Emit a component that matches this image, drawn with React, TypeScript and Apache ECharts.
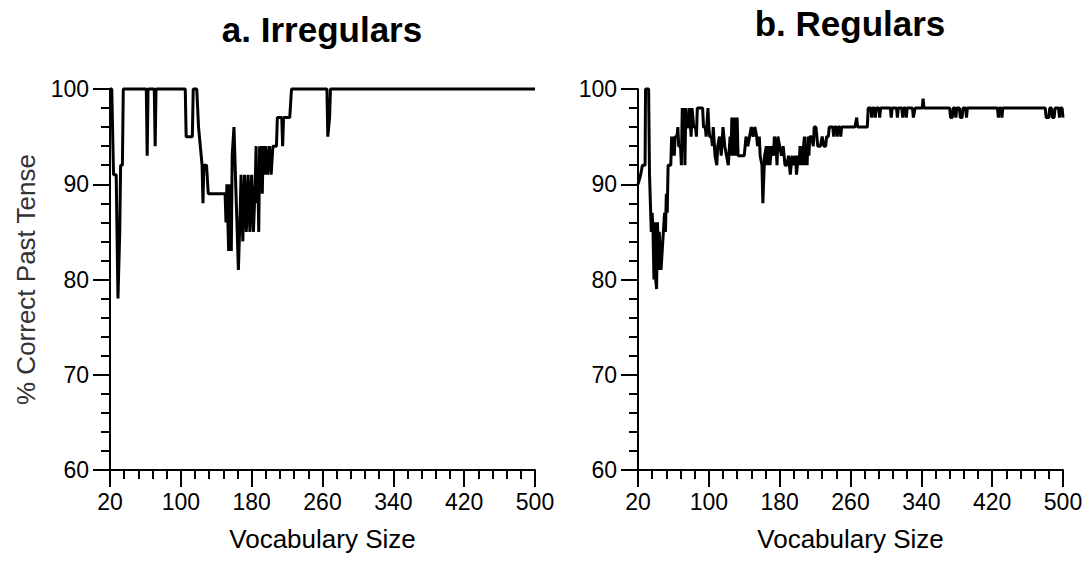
import React, { useEffect, useRef } from "react";
import * as echarts from "echarts";

// x axis starts at vocabulary size 20; the axis is drawn 0..480 and labelled +20
const X_ORIGIN = 20;
const xTickLabels = [20, 100, 180, 260, 340, 420, 500];
const yTickLabels = [60, 70, 80, 90, 100];

const titles = ["a. Irregulars", "b. Regulars"];
const xName = "Vocabulary Size";
const yName = "% Correct Past Tense";

const irregVocab = [
  20, 22, 24, 27, 29, 31, 32, 34, 35, 61, 62, 63, 70, 71, 72, 105, 106, 113, 114, 118,
  120, 124, 125, 126, 129, 131, 150, 151, 152, 154, 155, 157, 158, 160, 162, 165, 167, 168, 170, 172,
  174, 176, 178, 180, 182, 184, 185, 186, 187, 188, 189, 190, 191, 192, 193, 195, 196, 198, 200, 202,
  204, 208, 209, 214, 215, 216, 223, 225, 265, 266, 268, 269, 500,
];
const irregPct = [
  100, 100, 91, 91, 78, 85, 92, 92, 100, 100, 93, 100, 100, 94, 100, 100, 95, 95, 100, 100,
  96, 92, 88, 92, 92, 89, 89, 86, 90, 83, 90, 83, 93, 96, 90, 81, 87, 91, 84, 91,
  85, 91, 85, 91, 85, 90, 94, 88, 91, 85, 94, 91, 94, 89, 94, 91, 94, 91, 94, 91,
  94, 94, 97, 97, 94, 97, 97, 100, 100, 95, 97, 100, 100,
];

const regVocab = [
  20, 23, 25, 28, 28.5, 32, 33, 35, 36, 37, 38, 39, 40, 41, 42, 43, 44, 46, 48, 50,
  51, 52, 53, 54, 57, 58, 59, 60, 61, 62, 64, 65, 66, 68, 69, 70, 71, 72, 73, 74,
  75, 77, 78, 80, 81, 83, 85, 86, 87, 93, 94, 96, 97, 99, 100, 101, 103, 104, 105, 107,
  109, 110, 112, 114, 116, 118, 120, 122, 124, 125, 126, 127, 128, 129, 130, 131, 132, 133, 135, 138,
  140, 142, 144, 146, 148, 150, 152, 154, 155, 157, 158, 160, 161, 163, 165, 166, 168, 169, 171, 173,
  174, 176, 177, 178, 180, 182, 184, 186, 188, 190, 192, 194, 196, 198, 199, 201, 202, 203, 204, 205,
  206, 207, 208, 209, 210, 211, 212, 213, 214, 216, 218, 219, 221, 223, 226, 228, 230, 232, 233, 235,
  236, 240, 241, 242, 244, 245, 246, 248, 249, 250, 265, 267, 268, 279, 280, 283, 284, 285, 287, 288,
  289, 292, 293, 294, 305, 306, 307, 312, 313, 314, 318, 319, 320, 322, 323, 324, 330, 331, 333, 341,
  342, 343, 372, 373, 375, 376, 378, 379, 380, 383, 384, 386, 387, 390, 391, 392, 426, 427, 428, 430,
  431, 432, 480, 481, 484, 485, 487, 488, 490, 491, 495, 496, 497, 499, 500,
];
const regPct = [
  90, 91, 92, 92, 100, 100, 91, 85, 87, 85, 80, 86, 80, 79, 86, 81, 85, 81, 84, 87,
  85, 89, 87, 92, 92, 95, 93, 95, 93, 95, 95, 96, 94, 94, 92, 98, 95, 98, 92, 98,
  96, 96, 98, 95, 98, 96, 96, 95, 98, 98, 96, 96, 95, 98, 96, 95, 95, 94, 96, 93,
  92, 94, 95, 93, 96, 94, 93, 92, 95, 93, 97, 93, 97, 93, 97, 93, 97, 93, 93, 93,
  93, 95, 94, 95, 96, 95, 96, 95, 94, 95, 93, 92, 88, 93, 94, 92, 94, 92, 94, 93,
  95, 94, 92, 95, 94, 93, 94, 92, 92, 93, 91, 93, 92, 93, 91, 93, 92, 94, 92, 94,
  92, 94, 95, 92, 94, 92, 95, 93, 95, 95, 94, 96, 96, 94, 94, 95, 94, 94, 95, 95,
  96, 96, 95, 96, 96, 95, 96, 96, 95, 96, 96, 97, 96, 96, 98, 98, 97, 98, 98, 97,
  98, 98, 97, 98, 98, 97, 98, 98, 97, 98, 98, 97, 98, 98, 97, 98, 98, 97, 98, 98,
  99, 98, 98, 97, 97, 98, 98, 97, 98, 98, 97, 97, 98, 98, 97, 98, 98, 97, 98, 98,
  97, 98, 98, 97, 97, 98, 98, 97, 97, 98, 98, 97, 98, 98, 97,
];

const FONT = "'Liberation Sans', Arial, Helvetica, sans-serif";

export default function App() {
  const ref = useRef<HTMLDivElement>(null);

  useEffect(() => {
    if (!ref.current) return;
    const chart = echarts.init(ref.current, null, { renderer: "svg" });

    const toPoints = (xs: number[], ys: number[]) => xs.map((x, i) => [x - X_ORIGIN, ys[i]]);
    const xMax = xTickLabels[xTickLabels.length - 1] - X_ORIGIN;
    const xInterval = xTickLabels[1] - xTickLabels[0];
    const yMin = yTickLabels[0];
    const yMax = yTickLabels[yTickLabels.length - 1];
    const yInterval = yTickLabels[1] - yTickLabels[0];

    const lineStyle = { color: "#000", width: 2 };

    const makeX = (gridIndex: number) => ({
      type: "value",
      gridIndex,
      min: 0,
      max: xMax,
      interval: xInterval,
      name: xName,
      nameLocation: "middle",
      nameGap: 56,
      nameTextStyle: { fontSize: 26, color: "#000", fontFamily: FONT },
      axisLine: { show: true, onZero: false, lineStyle },
      axisTick: { show: true, inside: false, length: 17, lineStyle },
      minorTick: { show: true, splitNumber: 5, length: 9, lineStyle },
      axisLabel: {
        formatter: (v: number) => String(v + X_ORIGIN),
        fontSize: 23,
        color: "#000",
        fontFamily: FONT,
        margin: 20,
      },
      splitLine: { show: false },
      minorSplitLine: { show: false },
    });

    const makeY = (gridIndex: number, withName: boolean) => ({
      type: "value",
      gridIndex,
      min: yMin,
      max: yMax,
      interval: yInterval,
      name: withName ? yName : "",
      nameLocation: "middle",
      nameGap: 71,
      nameTextStyle: { fontSize: 26, color: "#333", fontFamily: FONT },
      axisLine: { show: true, onZero: false, lineStyle },
      axisTick: { show: true, inside: false, length: 17, lineStyle },
      minorTick: { show: true, splitNumber: 5, length: 9, lineStyle },
      axisLabel: { fontSize: 23, color: "#000", fontFamily: FONT, margin: 21 },
      splitLine: { show: false },
      minorSplitLine: { show: false },
    });

    const titleStyle = {
      align: "center",
      verticalAlign: "middle",
      fontSize: 35,
      fontWeight: "bold",
      fontFamily: FONT,
      fill: "#000",
    };

    chart.setOption({
      animation: false,
      backgroundColor: "#fff",
      grid: [
        { left: 110, top: 89, width: 425, height: 381 },
        { left: 638, top: 89, width: 425, height: 381 },
      ],
      xAxis: [makeX(0), makeX(1)],
      yAxis: [makeY(0, true), makeY(1, false)],
      graphic: [
        { type: "text", x: 322, y: 29, style: { ...titleStyle, text: titles[0] } },
        { type: "text", x: 850, y: 23, style: { ...titleStyle, text: titles[1] } },
      ],
      series: [
        {
          type: "line",
          xAxisIndex: 0,
          yAxisIndex: 0,
          data: toPoints(irregVocab, irregPct),
          showSymbol: false,
          symbol: "none",
          lineStyle: { color: "#000", width: 3 },
          clip: false,
        },
        {
          type: "line",
          xAxisIndex: 1,
          yAxisIndex: 1,
          data: toPoints(regVocab, regPct),
          showSymbol: false,
          symbol: "none",
          lineStyle: { color: "#000", width: 3 },
          clip: false,
        },
      ],
    });

    return () => chart.dispose();
  }, []);

  return (
    <div
      ref={ref}
      style={{ position: "absolute", left: 0, top: 0, width: 1088, height: 562 }}
    />
  );
}
